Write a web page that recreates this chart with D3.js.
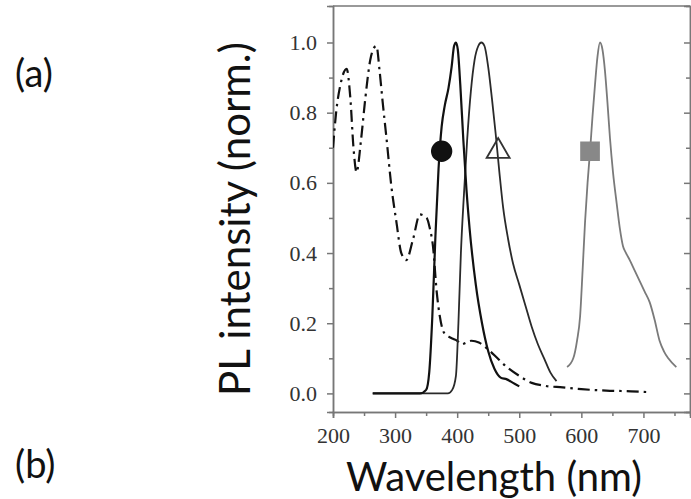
<!DOCTYPE html>
<html>
<head>
<meta charset="utf-8">
<script src="https://cdn.jsdelivr.net/npm/d3@7"></script>
<style>
  body { margin: 0; background: #fff; }
</style>
</head>
<body>
<div id="chart"></div>
<script>
// absorption (dash-dot)
const absWl  = [200,205,212,222,228,233,238,245,252,260,266,270,275,280,286,294,302,310,318,329,340,351,356,361,367,372,377,383,388,394,400,407,415,423,435,450,465,480,500,520,540,570,600,640,680,705];
const absVal = [0.70,0.80,0.88,0.925,0.84,0.70,0.63,0.72,0.84,0.95,0.985,0.99,0.92,0.83,0.73,0.59,0.49,0.40,0.38,0.44,0.51,0.50,0.47,0.42,0.29,0.22,0.18,0.165,0.16,0.155,0.15,0.14,0.145,0.15,0.145,0.125,0.10,0.075,0.05,0.03,0.022,0.017,0.012,0.008,0.006,0.004];

// emission, filled circle
const circWl  = [264,340,350,355,360,365,370,375,380,386,391,395,398,401,405,410,415,420,430,440,450,460,470,480,490,500];
const circVal = [0,0,0.01,0.06,0.22,0.45,0.64,0.76,0.82,0.87,0.93,0.99,1.0,0.98,0.88,0.72,0.58,0.47,0.31,0.20,0.12,0.07,0.045,0.04,0.03,0.02];

// emission, open triangle
const triWl  = [264,385,392,398,402,406,411,416,422,428,434,439,444,450,456,462,468,474,482,490,500,510,520,530,540,550,560];
const triVal = [0,0,0.01,0.05,0.20,0.40,0.57,0.72,0.86,0.95,0.99,1.0,0.99,0.93,0.84,0.74,0.63,0.53,0.44,0.37,0.31,0.25,0.19,0.14,0.10,0.06,0.035];

// emission, grey square
const sqWl  = [577,587,593,598,602,606,610,614,618,622,626,630,634,638,642,646,651,657,662,667,672,678,686,694,702,710,718,726,733,740,753];
const sqVal = [0.075,0.10,0.15,0.22,0.35,0.49,0.60,0.69,0.79,0.88,0.96,1.0,0.98,0.92,0.83,0.73,0.63,0.54,0.47,0.42,0.40,0.38,0.35,0.32,0.29,0.26,0.21,0.15,0.12,0.10,0.075];

const markerWl  = [375, 466, 614];
const markerVal = [0.69, 0.69, 0.69];

const xTicks = [200, 300, 400, 500, 600, 700];
const yTicks = [0.0, 0.2, 0.4, 0.6, 0.8, 1.0];

const W = 691, H = 499;
const svg = d3.select("#chart").append("svg").attr("width", W).attr("height", H);

const x = d3.scaleLinear().domain([200, 775]).range([333, 690]);
const y = d3.scaleLinear().domain([-0.053, 1.104]).range([412, 6]);

svg.append("defs").append("clipPath").attr("id", "clip")
  .append("rect").attr("x", 333).attr("y", 6).attr("width", 357).attr("height", 406);

const axisColor = "#777";
const serif = '"Liberation Serif", "Times New Roman", serif';
const sans = 'Lato, "Open Sans", sans-serif';

function styleLabels(g) {
  g.selectAll("text")
    .style("font-family", serif).style("font-size", "22px").attr("fill", "#333");
}

// left axis
svg.append("g").attr("transform", "translate(333,0)")
  .call(d3.axisLeft(y).tickValues(yTicks).tickFormat(d3.format(".1f")).tickSizeOuter(0).tickSize(6).tickPadding(10))
  .call(styleLabels);
svg.append("g").attr("transform", "translate(333,0)")
  .call(d3.axisLeft(y).tickValues(d3.range(0.1, 1.0, 0.2)).tickFormat("").tickSizeOuter(0).tickSize(4));

// bottom axis
svg.append("g").attr("transform", "translate(0,412)")
  .call(d3.axisBottom(x).tickValues(xTicks).tickSizeOuter(0).tickSize(6).tickPadding(9))
  .call(styleLabels);
svg.append("g").attr("transform", "translate(0,412)")
  .call(d3.axisBottom(x).tickValues(d3.range(250, 775, 100)).tickFormat("").tickSizeOuter(0).tickSize(4));

// right axis, ticks inward
svg.append("g").attr("transform", "translate(690,0)")
  .call(d3.axisLeft(y).tickValues(yTicks).tickFormat("").tickSizeOuter(0).tickSize(6));
svg.append("g").attr("transform", "translate(690,0)")
  .call(d3.axisLeft(y).tickValues(d3.range(0.1, 1.0, 0.2)).tickFormat("").tickSizeOuter(0).tickSize(4));

// top border
svg.append("line").attr("x1", 333).attr("x2", 690).attr("y1", 6).attr("y2", 6);

svg.selectAll(".domain, .tick line, line").attr("stroke", axisColor).attr("stroke-width", 1.5);

const line = d3.line().x(d => x(d[0])).y(d => y(d[1])).curve(d3.curveMonotoneX);
const plot = svg.append("g").attr("clip-path", "url(#clip)");

const zip = (a, b) => a.map((v, i) => [v, b[i]]);

plot.append("path").datum(zip(absWl, absVal)).attr("d", line)
  .attr("fill", "none").attr("stroke", "#111").attr("stroke-width", 2.2)
  .attr("stroke-dasharray", "12,5,2.5,5");
plot.append("path").datum(zip(sqWl, sqVal)).attr("d", line)
  .attr("fill", "none").attr("stroke", "#7a7a7a").attr("stroke-width", 1.8);
plot.append("path").datum(zip(triWl, triVal)).attr("d", line)
  .attr("fill", "none").attr("stroke", "#2a2a2a").attr("stroke-width", 1.8);
plot.append("path").datum(zip(circWl, circVal)).attr("d", line)
  .attr("fill", "none").attr("stroke", "#111").attr("stroke-width", 2.2);

// markers
const sym = [
  { t: d3.symbolCircle, s: 300, fill: "#111", stroke: "#111" },
  { t: d3.symbolTriangle, s: 230, fill: "none", stroke: "#333" },
  { t: d3.symbolSquare, s: 320, fill: "#888", stroke: "#888" }
];
svg.selectAll(".marker").data(markerWl).join("path")
  .attr("class", "marker")
  .attr("transform", (d, i) => `translate(${x(d)},${y(markerVal[i])})`)
  .attr("d", (d, i) => d3.symbol().type(sym[i].t).size(sym[i].s)())
  .attr("fill", (d, i) => sym[i].fill)
  .attr("stroke", (d, i) => sym[i].stroke)
  .attr("stroke-width", 1.8);

// titles
function title(sel, size) {
  return sel.style("font-family", sans).style("font-size", size + "px").attr("fill", "#111");
}
svg.append("text").attr("x", 494).attr("y", 491)
  .attr("text-anchor", "middle").call(title, 40).text("Wavelength (nm)");
svg.append("text")
  .attr("transform", "translate(250,219) rotate(-90)")
  .attr("text-anchor", "middle").call(title, 42).text("PL intensity (norm.)");
svg.append("text").attr("x", 15).attr("y", 87).call(title, 38).text("(a)");
svg.append("text").attr("x", 15).attr("y", 478).call(title, 38).text("(b)");
</script>
</body>
</html>
